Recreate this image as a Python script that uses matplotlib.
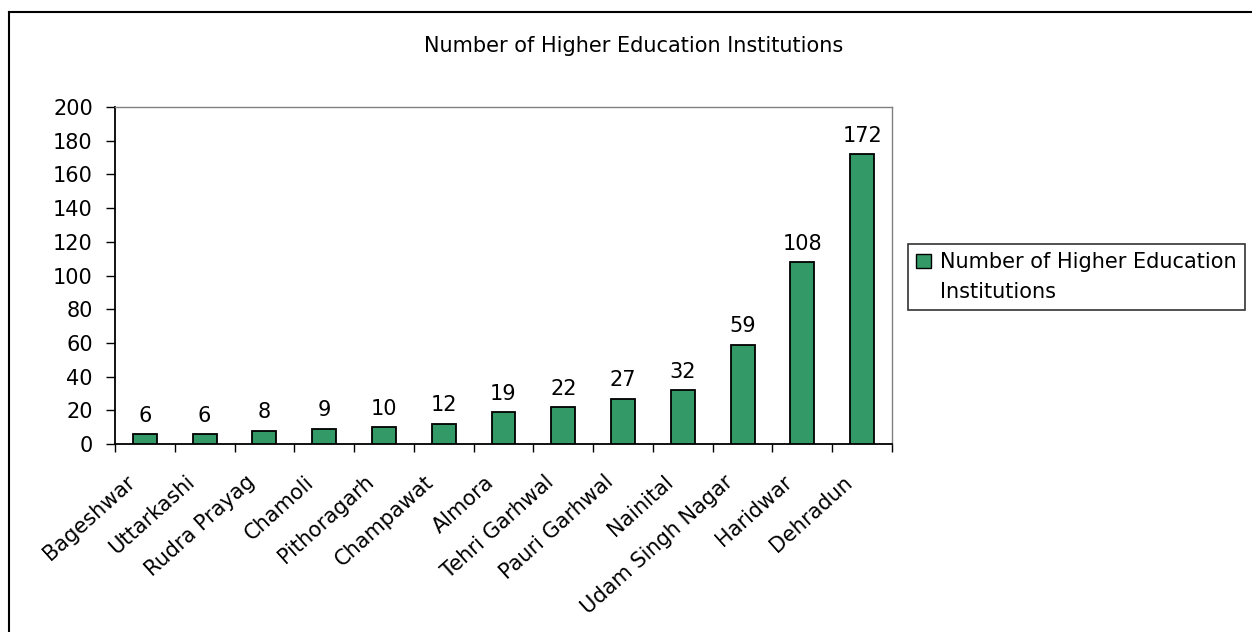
import matplotlib
matplotlib.use("Agg")
import matplotlib.pyplot as plt
from matplotlib.lines import Line2D
from matplotlib.patches import Patch
import numpy as np

plt.rcParams['font.family'] = ['DejaVu Sans']

districts = ["Bageshwar", "Uttarkashi", "Rudra Prayag", "Chamoli", "Pithoragarh",
             "Champawat", "Almora", "Tehri Garhwal", "Pauri Garhwal", "Nainital",
             "Udam Singh Nagar", "Haridwar", "Dehradun"]
institutions = [6, 6, 8, 9, 10, 12, 19, 22, 27, 32, 59, 108, 172]
series_name = "Number of Higher Education Institutions"
y_ticks = [0, 20, 40, 60, 80, 100, 120, 140, 160, 180, 200]

bar_color = "#339966"
FS = 15

W, H = 1252, 632
fig = plt.figure(figsize=(W / 100, H / 100), dpi=100)
ax = fig.add_axes([115 / W, 1 - 444 / H, (892 - 115) / W, (444 - 107) / H])

n = len(districts)
x = np.arange(n)
ax.bar(x, institutions, width=0.40, color=bar_color, edgecolor="black",
       linewidth=1.3, zorder=3)

for xi, v in zip(x, institutions):
    ax.annotate(str(v), (xi, v), xytext=(0, 8.9), textcoords="offset points",
                ha="center", va="baseline", fontsize=FS)

ax.set_xlim(-0.5, n - 0.5)
ax.set_ylim(0, 200)
ax.set_yticks(y_ticks)
ax.set_yticklabels([str(t) for t in y_ticks], fontsize=FS)
ax.tick_params(axis='y', direction='out', length=6.5, width=1, pad=9.5)

ax.set_xticks(np.arange(n + 1) - 0.5)
ax.set_xticklabels([])
ax.tick_params(axis='x', direction='out', length=6, width=1)
for xi, name in zip(x, districts):
    ax.annotate(name, (xi, 0), xytext=(-14, -20), textcoords="offset points",
                ha="right", va="top", rotation=42, rotation_mode="anchor",
                fontsize=FS, annotation_clip=False)

for s in ["top", "right"]:
    ax.spines[s].set_color("#808080")
    ax.spines[s].set_linewidth(1)
for s in ["left", "bottom"]:
    ax.spines[s].set_color("black")
    ax.spines[s].set_linewidth(1.3)

fig.text(633.5 / W, 1 - 52.3 / H, series_name, ha="center", va="baseline",
         fontsize=FS)

words = series_name.split(" ")
line1 = " ".join(words[:-1])
line2 = words[-1]
handles = [Patch(facecolor=bar_color, edgecolor="black", linewidth=1),
           Patch(facecolor="none", edgecolor="none")]
leg = fig.legend(handles, [line1, line2], loc="upper left",
                 bbox_to_anchor=(908 / W, 1 - 244 / H),
                 frameon=True, fancybox=False, edgecolor="black",
                 fontsize=FS, handlelength=0.72, handleheight=0.72,
                 handletextpad=0.4, labelspacing=0.45, borderpad=0.4,
                 borderaxespad=0)
leg.get_frame().set_linewidth(1.2)

fig.add_artist(Line2D([9 / W, 9 / W], [0, 1 - 12 / H], color="black",
                      linewidth=1.5, transform=fig.transFigure))
fig.add_artist(Line2D([9 / W, 1], [1 - 12 / H, 1 - 12 / H], color="black",
                      linewidth=1.5, transform=fig.transFigure))

fig.savefig("out.png", dpi=100)
